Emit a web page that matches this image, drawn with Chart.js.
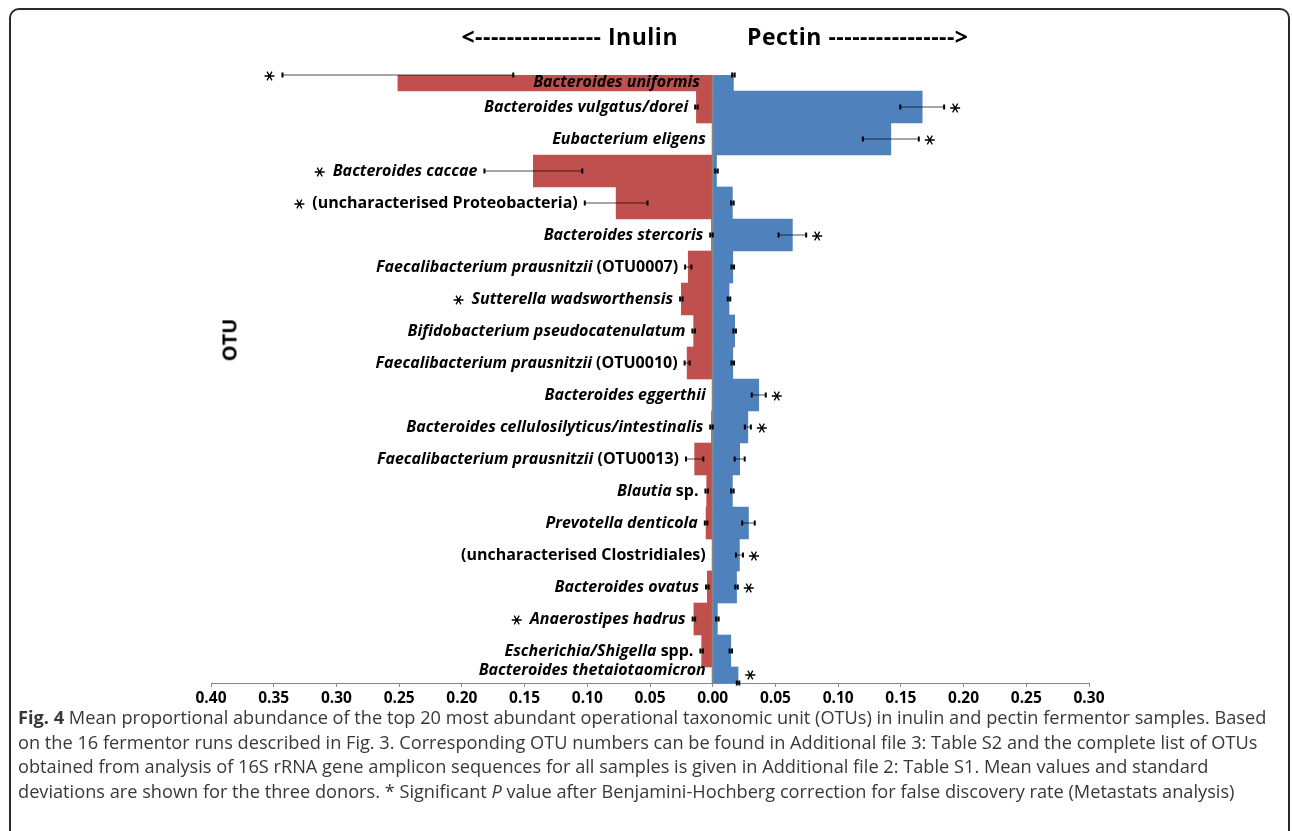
<!DOCTYPE html>
<html>
<head>
<meta charset="utf-8">
<script src="https://cdn.jsdelivr.net/npm/chart.js@4/dist/chart.umd.min.js"></script>
<style>
  html, body { margin: 0; padding: 0; background: #fff; }
  body { width: 1292px; height: 831px; position: relative; overflow: hidden; font-family: "Open Sans", sans-serif; }
  #frame { position: absolute; left: 9px; top: 8px; width: 1281px; height: 850px; border: 2px solid #2a2a2a; border-radius: 10px; box-sizing: border-box; }
  #chartBox { position: absolute; left: 0; top: 0; width: 1292px; height: 720px; }
  .dir { position: absolute; top: 19px; font-weight: 700; font-size: 23px; letter-spacing: 0.5px; color: #000; line-height: 34px; white-space: nowrap; }
  #inulinDir { right: 614px; }
  #pectinDir { left: 747px; }
  #otu { position: absolute; left: 229px; top: 340px; transform: translate(-50%, -50%) rotate(-90deg); font-weight: 700; font-size: 20px; color: #000; white-space: nowrap; }
  #caption { position: absolute; left: 18px; top: 705px; font-size: 18.2px; line-height: 24.5px; color: #383838; white-space: nowrap; }
  #caption b { font-weight: 700; }
</style>
</head>
<body>
<div id="frame"></div>
<div id="chartBox"><canvas id="chart" width="1292" height="720"></canvas></div>
<div class="dir" id="inulinDir">&lt;---------------- Inulin</div>
<div class="dir" id="pectinDir">Pectin ----------------&gt;</div>
<div id="otu">OTU</div>
<div id="caption">
  <div><b>Fig. 4</b> Mean proportional abundance of the top 20 most abundant operational taxonomic unit (OTUs) in inulin and pectin fermentor samples. Based</div>
  <div>on the 16 fermentor runs described in Fig. 3. Corresponding OTU numbers can be found in Additional file 3: Table S2 and the complete list of OTUs</div>
  <div>obtained from analysis of 16S rRNA gene amplicon sequences for all samples is given in Additional file 2: Table S1. Mean values and standard</div>
  <div>deviations are shown for the three donors. * Significant <i>P</i> value after Benjamini-Hochberg correction for false discovery rate (Metastats analysis)</div>
</div>
<script>
// Top 20 OTUs, most abundant first
const categories = [
  "Bacteroides uniformis",
  "Bacteroides vulgatus/dorei",
  "Eubacterium eligens",
  "Bacteroides caccae",
  "(uncharacterised Proteobacteria)",
  "Bacteroides stercoris",
  "Faecalibacterium prausnitzii (OTU0007)",
  "Sutterella wadsworthensis",
  "Bifidobacterium pseudocatenulatum",
  "Faecalibacterium prausnitzii (OTU0010)",
  "Bacteroides eggerthii",
  "Bacteroides cellulosilyticus/intestinalis",
  "Faecalibacterium prausnitzii (OTU0013)",
  "Blautia sp.",
  "Prevotella denticola",
  "(uncharacterised Clostridiales)",
  "Bacteroides ovatus",
  "Anaerostipes hadrus",
  "Escherichia/Shigella spp.",
  "Bacteroides thetaiotaomicron"
];

// Mean proportional abundance and standard deviation, inulin fermentors
const inulinMean = [0.251, 0.013, 0, 0.143, 0.077, 0.001, 0.0195, 0.025, 0.0152, 0.0204,
                    0, 0.001, 0.0144, 0.0048, 0.0053, 0, 0.0043, 0.015, 0.0088, 0];
const inulinSD   = [0.092, 0.001, 0, 0.039, 0.025, 0.001, 0.0025, 0.001, 0.001, 0.002,
                    0, 0.001, 0.0069, 0.001, 0.001, 0, 0.001, 0.001, 0.001, 0];

// Mean proportional abundance and standard deviation, pectin fermentors
const pectinMean = [0.0165, 0.167, 0.142, 0.003, 0.0157, 0.0635, 0.016, 0.013, 0.0175, 0.016,
                    0.0367, 0.028, 0.0215, 0.0157, 0.0285, 0.0213, 0.019, 0.0037, 0.0144, 0.0202];
const pectinSD   = [0.001, 0.0175, 0.0223, 0.001, 0.001, 0.011, 0.001, 0.001, 0.001, 0.001,
                    0.0056, 0.0024, 0.004, 0.001, 0.005, 0.0028, 0.001, 0.001, 0.001, 0.001];

// Significant after Benjamini-Hochberg correction (Metastats)
const sigInulin = [1, 0, 0, 1, 1, 0, 0, 1, 0, 0, 0, 0, 0, 0, 0, 0, 0, 1, 0, 0];
const sigPectin = [0, 1, 1, 0, 0, 1, 0, 0, 0, 0, 1, 1, 0, 0, 0, 1, 1, 0, 0, 1];

// Axis ticks (shown as absolute abundance either side of zero)
const xMin = -0.40, xMax = 0.30, xStep = 0.05;

const RED = '#C0504D';
const BLUE = '#4F81BD';
const AXIS_GREY = '#868686';
const LABEL_SIZE = 16;

// Taxon names in italics; parenthesised text and sp./spp. upright
function labelRuns(name) {
  const runs = [];
  const re = /(\([^)]*\)|\bspp?\.)/g;
  let last = 0, m;
  while ((m = re.exec(name))) {
    if (m.index > last) runs.push({ t: name.slice(last, m.index), it: true });
    runs.push({ t: m[0], it: false });
    last = m.index + m[0].length;
  }
  if (last < name.length) runs.push({ t: name.slice(last), it: true });
  return runs;
}

function runFont(it) {
  return (it ? 'italic ' : '') + '700 ' + LABEL_SIZE + 'px "Open Sans", sans-serif';
}

function drawStar(ctx, cx, cy) {
  const r = 5;
  ctx.beginPath();
  [0, 60, 120].forEach(deg => {
    const t = deg * Math.PI / 180;
    ctx.moveTo(cx - r * Math.cos(t), cy - r * Math.sin(t));
    ctx.lineTo(cx + r * Math.cos(t), cy + r * Math.sin(t));
  });
  ctx.lineWidth = 1.3;
  ctx.strokeStyle = '#000';
  ctx.stroke();
}

function drawErrorBar(ctx, x1, x2, yy) {
  ctx.beginPath();
  ctx.moveTo(x1, yy);
  ctx.lineTo(x2, yy);
  ctx.lineWidth = 2;
  ctx.strokeStyle = 'rgba(0,0,0,0.35)';
  ctx.stroke();
  ctx.fillStyle = '#000';
  ctx.fillRect(x1 - 1, yy - 2.5, 2, 5);
  ctx.fillRect(x2 - 1, yy - 2.5, 2, 5);
}

// Zero axis, error bars, OTU names and significance stars
const overlay = {
  id: 'overlay',
  afterDatasetsDraw(chart) {
    const { ctx, chartArea: a, scales: { x, y } } = chart;
    const zeroX = x.getPixelForValue(0);
    ctx.save();

    // vertical category axis through zero, with its tick marks
    ctx.beginPath();
    ctx.moveTo(zeroX, a.top);
    ctx.lineTo(zeroX, a.bottom);
    ctx.lineWidth = 2;
    ctx.strokeStyle = AXIS_GREY;
    ctx.stroke();
    ctx.beginPath();
    categories.forEach((_, i) => {
      const cy = Math.round(y.getPixelForValue(i)) + 0.5;
      ctx.moveTo(zeroX, cy);
      ctx.lineTo(zeroX + 5, cy);
    });
    ctx.lineWidth = 1;
    ctx.strokeStyle = 'rgba(134,134,134,0.55)';
    ctx.stroke();

    categories.forEach((name, i) => {
      const cy = y.getPixelForValue(i);
      const inLeft = x.getPixelForValue(-(inulinMean[i] + inulinSD[i]));
      const inRight = x.getPixelForValue(-(inulinMean[i] - inulinSD[i]));
      const peLeft = x.getPixelForValue(pectinMean[i] - pectinSD[i]);
      const peRight = x.getPixelForValue(pectinMean[i] + pectinSD[i]);

      if (inulinMean[i] > 0) drawErrorBar(ctx, inLeft, inRight, cy);
      if (pectinMean[i] > 0) drawErrorBar(ctx, peLeft, peRight, cy);

      // OTU name, right-aligned just left of the inulin bar
      let right;
      if (inulinMean[i] > 0.2) right = zeroX - 13;           // long bar: name sits inside it
      else right = Math.min(inLeft - 7, zeroX - 6);
      const ly = Math.min(Math.max(cy, a.top + 7), a.bottom - 13);
      const runs = labelRuns(name);
      let total = 0;
      runs.forEach(r => { ctx.font = runFont(r.it); r.w = ctx.measureText(r.t).width; total += r.w; });
      let lx = right - total;
      const labelLeft = lx;
      ctx.fillStyle = '#000';
      ctx.textBaseline = 'middle';
      ctx.textAlign = 'left';
      runs.forEach(r => { ctx.font = runFont(r.it); ctx.fillText(r.t, lx, ly); lx += r.w; });

      const sy = Math.min(cy + 1, a.bottom - 8);
      if (sigInulin[i]) drawStar(ctx, Math.min(labelLeft, inLeft) - 13, sy);
      if (sigPectin[i]) drawStar(ctx, peRight + 11, sy);
    });
    ctx.restore();
  }
};

const ticks = [];
for (let k = 0; k <= Math.round((xMax - xMin) / xStep); k++) ticks.push(xMin + k * xStep);

new Chart(document.getElementById('chart'), {
  type: 'bar',
  data: {
    labels: categories,
    datasets: [
      { label: 'Inulin', data: inulinMean.map(v => -v), backgroundColor: RED,
        barPercentage: 1, categoryPercentage: 1, borderWidth: 0 },
      { label: 'Pectin', data: pectinMean, backgroundColor: BLUE,
        barPercentage: 1, categoryPercentage: 1, borderWidth: 0 }
    ]
  },
  options: {
    indexAxis: 'y',
    responsive: false,
    animation: false,
    layout: { padding: { left: 211, right: 203, top: 75, bottom: 7 } },
    plugins: { legend: { display: false }, tooltip: { enabled: false } },
    scales: {
      x: {
        type: 'linear',
        stacked: true,
        min: xMin,
        max: xMax,
        afterBuildTicks(scale) { scale.ticks = ticks.map(v => ({ value: v })); },
        afterFit(scale) { scale.height = 30; },
        grid: { display: true, drawOnChartArea: false, drawTicks: true, tickLength: 4,
                color: 'rgba(0,0,0,0)', tickColor: AXIS_GREY, tickWidth: 1 },
        border: { display: true, color: AXIS_GREY, width: 1 },
        ticks: {
          autoSkip: false,
          maxRotation: 0,
          padding: 2,
          color: '#000',
          font: { family: '"Open Sans", sans-serif', size: 15.5, weight: '700' },
          callback: v => Math.abs(v).toFixed(2)
        }
      },
      y: {
        type: 'category',
        stacked: true,
        offset: false,
        display: false
      }
    }
  },
  plugins: [overlay]
});
</script>
</body>
</html>
